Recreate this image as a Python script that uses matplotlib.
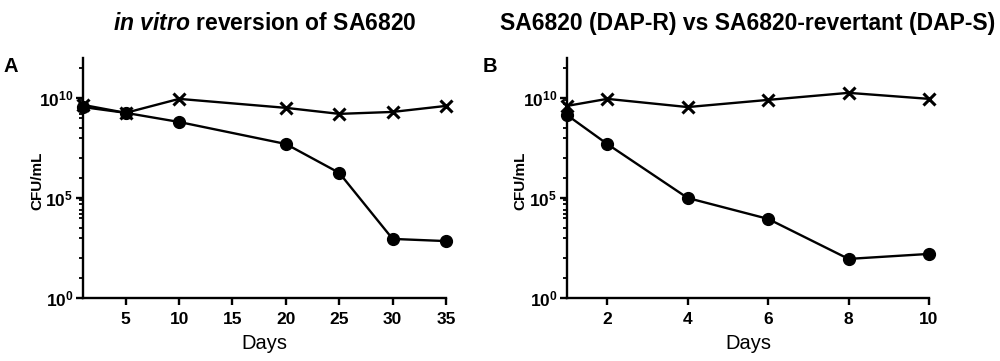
import matplotlib
matplotlib.use("Agg")
import matplotlib.pyplot as plt
from matplotlib.ticker import FixedLocator, NullFormatter

plt.rcParams['font.family'] = ['Liberation Sans', 'DejaVu Sans']
plt.rcParams['mathtext.fontset'] = 'custom'
plt.rcParams['mathtext.rm'] = 'Liberation Sans'
plt.rcParams['mathtext.bf'] = 'Liberation Sans:bold'
plt.rcParams['mathtext.it'] = 'Liberation Sans:italic'
plt.rcParams['mathtext.bfit'] = 'Liberation Sans:bold:italic'

# Panel A data
days_a = [1, 5, 10, 20, 25, 30, 35]
cross_a = [4.5e9, 1.8e9, 9e9, 3.2e9, 1.6e9, 2.0e9, 4.0e9]
circle_a = [3.5e9, 1.8e9, 6.3e8, 5e7, 1.8e6, 900, 700]
xticks_a = [5, 10, 15, 20, 25, 30, 35]

# Panel B data
days_b = [1, 2, 4, 6, 8, 10]
cross_b = [4e9, 9e9, 3.5e9, 8e9, 1.8e10, 9e9]
circle_b = [1.4e9, 5e7, 1e5, 9e3, 90, 160]
xticks_b = [2, 4, 6, 8, 10]

ymajor = [1, 1e5, 1e10]
ylabels = [r'$\mathbf{10^{0}}$', r'$\mathbf{10^{5}}$', r'$\mathbf{10^{10}}$']
minor_offsets = [0.12, 0.3, 0.6, 0.78, 1.0, 1.5, 2.0, 3.0, 4.0]
yminor = [10 ** (d - o) for d in (5, 10) for o in minor_offsets] + [10 ** 11.5]

fig = plt.figure(figsize=(10, 3.61), dpi=100)
axA = fig.add_axes([0.083, 0.1745, 0.363, 0.665])
axB = fig.add_axes([0.567, 0.1745, 0.362, 0.665])

for ax, dx, cr, ci, xt, xl, ylx in [(axA, days_a, cross_a, circle_a, xticks_a, (1, 35), -0.107),
                                     (axB, days_b, cross_b, circle_b, xticks_b, (1, 10), -0.11)]:
    ax.plot(dx, cr, color='black', lw=1.7, marker='x', ms=8, mew=2.2, clip_on=False, zorder=3)
    ax.plot(dx, ci, color='black', lw=1.7, marker='o', ms=8.5, clip_on=False, zorder=3)
    ax.set_yscale('log')
    ax.set_ylim(1, 1e12)
    ax.set_xlim(*xl)
    ax.yaxis.set_major_locator(FixedLocator(ymajor))
    ax.set_yticklabels(ylabels)
    ax.yaxis.set_minor_locator(FixedLocator(yminor))
    ax.yaxis.set_minor_formatter(NullFormatter())
    ax.set_xticks(xt)
    ax.set_xticklabels([str(v) for v in xt])
    for s in ('top', 'right'):
        ax.spines[s].set_visible(False)
    for s in ('left', 'bottom'):
        ax.spines[s].set_linewidth(1.7)
    ax.tick_params(axis='both', which='major', direction='out', length=5, width=1.7,
                   labelsize=12.5)
    ax.tick_params(axis='x', which='major', pad=5)
    ax.tick_params(axis='y', which='major', pad=2)
    ax.tick_params(axis='y', which='minor', direction='out', length=3, width=1.3)
    for lab in ax.get_xticklabels() + ax.get_yticklabels():
        lab.set_fontweight('bold')
    ax.set_xlabel('Days', fontsize=14.5, labelpad=5)
    ax.set_ylabel('CFU/mL', fontsize=11, fontweight='bold')
    ax.yaxis.set_label_coords(ylx, 0.49)

axA.set_title(r'$\mathbfit{in\ vitro}$ reversion of SA6820', fontsize=16.5,
              fontweight='bold', pad=20)
axB.set_title('SA6820 (DAP-R) vs SA6820-revertant (DAP-S)', fontsize=16.5,
              fontweight='bold', pad=20)

fig.text(0.011, 0.815, 'A', fontsize=14.5, fontweight='bold', ha='center', va='center')
fig.text(0.49, 0.815, 'B', fontsize=14.5, fontweight='bold', ha='center', va='center')

fig.savefig('out.png', dpi=100)
